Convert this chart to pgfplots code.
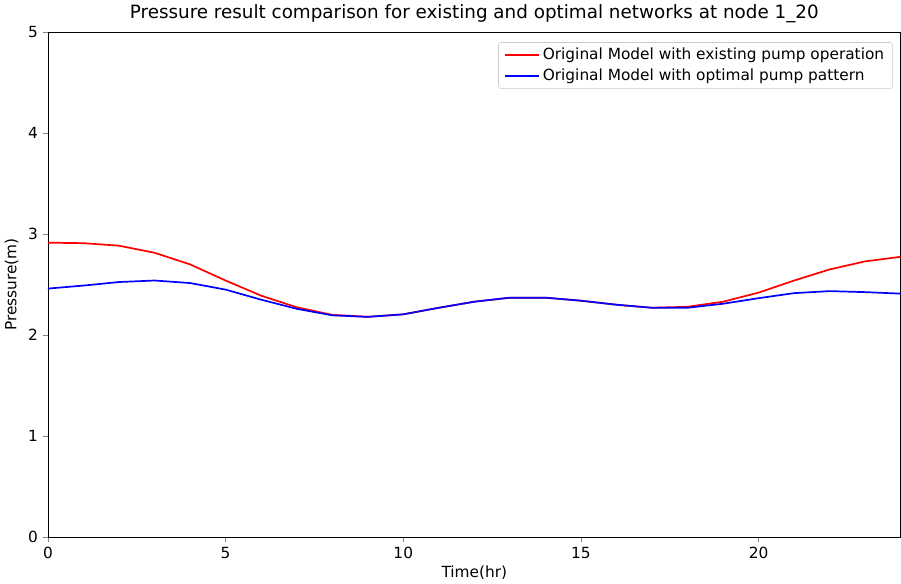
\documentclass[border=0pt]{standalone}
\usepackage{pgfplots}
\pgfplotsset{compat=1.18}
\usepackage{fontspec}
\setmainfont{DejaVu Sans}
\begin{document}
\begin{tikzpicture}
\begin{axis}[
  scale only axis, width=600pt, height=355pt,
  xmin=0, xmax=24, ymin=0, ymax=5,
  xtick={0,5,10,15,20}, ytick={0,1,2,3,4,5},
  tick align=outside, tick pos=left,
  major tick length=3.5pt,
  /pgf/number format/assume math mode=true,
  tick label style={font=\fontsize{10.8}{13}\selectfont},
  xlabel={Time(hr)}, ylabel={Pressure(m)},
  label style={font=\fontsize{10.8}{13}\selectfont},
  xlabel style={yshift=2pt}, ylabel style={yshift=0pt},
  title={Pressure result comparison for existing and optimal networks at node 1\_20},
  title style={font=\fontsize{12.9}{15}\selectfont, yshift=-3pt},
  legend cell align=left,
  legend style={at={(rel axis cs:1,1)}, anchor=north east,
    font=\fontsize{10.8}{13}\selectfont, draw=black!20, rounded corners=2pt,
    xshift=-5.5pt, yshift=-7pt, row sep=1pt, inner xsep=4pt},
  legend image code/.code={\draw[mark repeat=2,mark phase=2,#1] plot coordinates {(0pt,0pt) (12pt,0pt) (24pt,0pt)};},
]
\addplot[red, line width=1.2pt, mark=none] coordinates {
(0,2.915) (1,2.91) (2,2.885) (3,2.815) (4,2.70) (5,2.54) (6,2.39) (7,2.275)
(8,2.20) (9,2.18) (10,2.205) (11,2.27) (12,2.33) (13,2.37) (14,2.37)
(15,2.34) (16,2.30) (17,2.27) (18,2.28) (19,2.33) (20,2.42) (21,2.54)
(22,2.65) (23,2.73) (24,2.775)};
\addplot[blue, line width=1.2pt, mark=none] coordinates {
(0,2.46) (1,2.49) (2,2.525) (3,2.54) (4,2.515) (5,2.45) (6,2.35) (7,2.26)
(8,2.195) (9,2.18) (10,2.205) (11,2.27) (12,2.33) (13,2.37) (14,2.37)
(15,2.34) (16,2.30) (17,2.27) (18,2.27) (19,2.31) (20,2.365) (21,2.415)
(22,2.435) (23,2.425) (24,2.41)};
\legend{Original Model with existing pump operation, Original Model with optimal pump pattern}
\end{axis}
\end{tikzpicture}
\end{document}
